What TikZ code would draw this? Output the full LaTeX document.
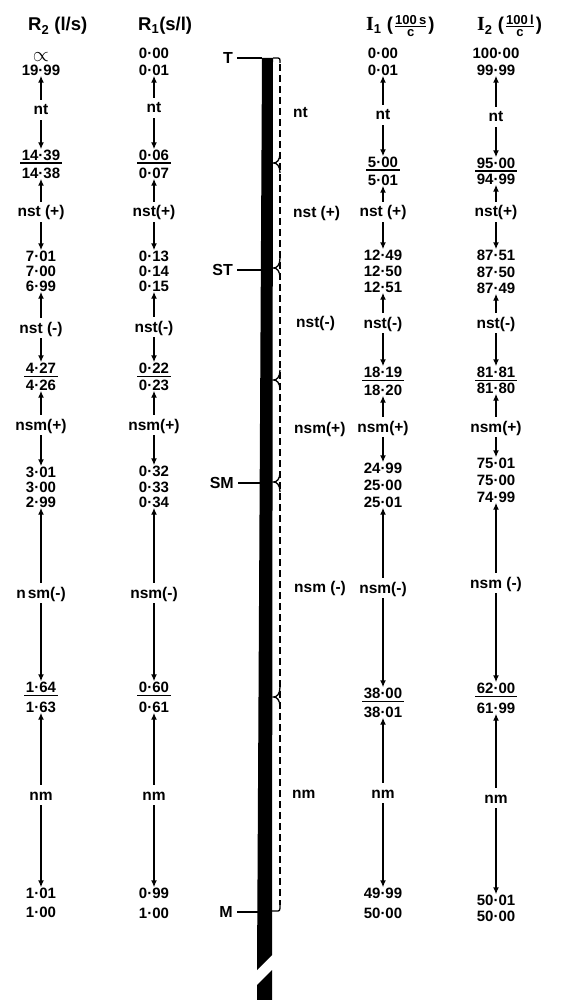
\documentclass[tikz,border=0pt]{standalone}
\usepackage{fontspec}
\setmainfont{Liberation Sans}
\newfontfamily\serifI{Liberation Serif}
\usetikzlibrary{arrows.meta}

\begin{document}
\begin{tikzpicture}[x=1pt,y=-1pt,
  num/.style={font=\bfseries\fontsize{15}{15}\selectfont, inner sep=0pt, text height=11pt, text depth=0pt},
  lab/.style={font=\bfseries\fontsize{15.5}{15.5}\selectfont, inner sep=1pt, text height=12pt, text depth=2pt},
  head/.style={font=\bfseries\fontsize{18.5}{18.5}\selectfont, inner sep=0pt, anchor=base west},
  tk/.style={font=\bfseries\fontsize{16}{16}\selectfont, inner sep=1pt, anchor=east},
  arr/.style={line width=1.6pt, -{Latex[length=7pt,width=6pt]}, shorten <=2pt},
  ul/.style={line width=1.4pt},
  tick/.style={line width=1.3pt, shorten <=3pt},
  rangeline/.style={line width=1.3pt, dash pattern=on 7pt off 4pt},
  brk/.style={line width=1.3pt}]
\useasboundingbox (0,0) rectangle (563,1000);

% column headings
\node[head] (h1) at (28,31) {R\textsubscript{2} (l/s)};
\node[head] (h2) at (138,31) {R\textsubscript{1}(s/l)};
\node[head] (h3) at (366,31) {{\serifI\fontsize{20}{20}\selectfont I}\textsubscript{1} (\kern1pt$\frac{\hbox{\fontsize{13}{13}\selectfont 100\,s}}{\hbox{\fontsize{13}{13}\selectfont c}}$\kern1pt)};
\node[head] (h4) at (477,31) {{\serifI\fontsize{20}{20}\selectfont I}\textsubscript{2} (\kern1pt$\frac{\hbox{\fontsize{13}{13}\selectfont 100\,l}}{\hbox{\fontsize{13}{13}\selectfont c}}$\kern1pt)};

% R2 column
\node[num] (r2a1) at (41,56) {\fontsize{22}{22}\selectfont$\propto$};
\node[num] (r2a2) at (41,70) {19·99};
\node[lab] (r2l1) at (41,110) {nt};
\node[num] (r2b1) at (41,155) {14·39};
\node[num] (r2b2) at (41,173) {14·38};
\node[lab] (r2l2) at (41,212) {nst (+)};
\node[num] (r2c1) at (41,256) {7·01};
\node[num] (r2c2) at (41,271) {7·00};
\node[num] (r2c3) at (41,286) {6·99};
\node[lab] (r2l3) at (41,328) {nst (-)};
\node[num] (r2d1) at (41,368) {4·27};
\node[num] (r2d2) at (41,385) {4·26};
\node[lab] (r2l4) at (41,425) {nsm(+)};
\node[num] (r2e1) at (41,472) {3·01};
\node[num] (r2e2) at (41,487) {3·00};
\node[num] (r2e3) at (41,502) {2·99};
\node[lab] (r2l5) at (41,593) {n\kern2pt sm(-)};
\node[num] (r2f1) at (41,687) {1·64};
\node[num] (r2f2) at (41,707) {1·63};
\node[lab] (r2l6) at (41,795) {nm};
\node[num] (r2g1) at (41,893) {1·01};
\node[num] (r2g2) at (41,912) {1·00};

% R1 column
\node[num] (r1a1) at (154,53) {0·00};
\node[num] (r1a2) at (154,70) {0·01};
\node[lab] (r1l1) at (154,108) {nt};
\node[num] (r1b1) at (154,155) {0·06};
\node[num] (r1b2) at (154,173) {0·07};
\node[lab] (r1l2) at (154,212) {nst(+)};
\node[num] (r1c1) at (154,256) {0·13};
\node[num] (r1c2) at (154,271) {0·14};
\node[num] (r1c3) at (154,286) {0·15};
\node[lab] (r1l3) at (154,327) {nst(-)};
\node[num] (r1d1) at (154,368) {0·22};
\node[num] (r1d2) at (154,385) {0·23};
\node[lab] (r1l4) at (154,425) {nsm(+)};
\node[num] (r1e1) at (154,471) {0·32};
\node[num] (r1e2) at (154,487) {0·33};
\node[num] (r1e3) at (154,502) {0·34};
\node[lab] (r1l5) at (154,593) {nsm(-)};
\node[num] (r1f1) at (154,687) {0·60};
\node[num] (r1f2) at (154,707) {0·61};
\node[lab] (r1l6) at (154,795) {nm};
\node[num] (r1g1) at (154,893) {0·99};
\node[num] (r1g2) at (154,913) {1·00};

% I1 column
\node[num] (i1a1) at (383,53) {0·00};
\node[num] (i1a2) at (383,70) {0·01};
\node[lab] (i1l1) at (383,115) {nt};
\node[num] (i1b1) at (383,162) {5·00};
\node[num] (i1b2) at (383,180) {5·01};
\node[lab] (i1l2) at (383,212) {nst (+)};
\node[num] (i1c1) at (383,255) {12·49};
\node[num] (i1c2) at (383,271) {12·50};
\node[num] (i1c3) at (383,287) {12·51};
\node[lab] (i1l3) at (383,323) {nst(-)};
\node[num] (i1d1) at (383,372) {18·19};
\node[num] (i1d2) at (383,390) {18·20};
\node[lab] (i1l4) at (383,427) {nsm(+)};
\node[num] (i1e1) at (383,468) {24·99};
\node[num] (i1e2) at (383,485) {25·00};
\node[num] (i1e3) at (383,502) {25·01};
\node[lab] (i1l5) at (383,588) {nsm(-)};
\node[num] (i1f1) at (383,693) {38·00};
\node[num] (i1f2) at (383,712) {38·01};
\node[lab] (i1l6) at (383,793) {nm};
\node[num] (i1g1) at (383,893) {49·99};
\node[num] (i1g2) at (383,913) {50·00};

% I2 column
\node[num] (i2a1) at (496,53) {100·00};
\node[num] (i2a2) at (496,70) {99·99};
\node[lab] (i2l1) at (496,117) {nt};
\node[num] (i2b1) at (496,163) {95·00};
\node[num] (i2b2) at (496,179) {94·99};
\node[lab] (i2l2) at (496,212) {nst(+)};
\node[num] (i2c1) at (496,255) {87·51};
\node[num] (i2c2) at (496,272) {87·50};
\node[num] (i2c3) at (496,288) {87·49};
\node[lab] (i2l3) at (496,323) {nst(-)};
\node[num] (i2d1) at (496,372) {81·81};
\node[num] (i2d2) at (496,388) {81·80};
\node[lab] (i2l4) at (496,427) {nsm(+)};
\node[num] (i2e1) at (496,463) {75·01};
\node[num] (i2e2) at (496,480) {75·00};
\node[num] (i2e3) at (496,497) {74·99};
\node[lab] (i2l5) at (496,583) {nsm (-)};
\node[num] (i2f1) at (496,688) {62·00};
\node[num] (i2f2) at (496,708) {61·99};
\node[lab] (i2l6) at (496,798) {nm};
\node[num] (i2g1) at (496,900) {50·01};
\node[num] (i2g2) at (496,916) {50·00};

% range arrows and underlined boundary values
\foreach \c in {r2,r1,i1,i2}{
  \draw[arr] (\c l1) -- (\c a2);  \draw[arr] (\c l1) -- (\c b1);
  \draw[arr] (\c l2) -- (\c b2);  \draw[arr] (\c l2) -- (\c c1);
  \draw[arr] (\c l3) -- (\c c3);  \draw[arr] (\c l3) -- (\c d1);
  \draw[arr] (\c l4) -- (\c d2);  \draw[arr] (\c l4) -- (\c e1);
  \draw[arr] (\c l5) -- (\c e3);  \draw[arr] (\c l5) -- (\c f1);
  \draw[arr] (\c l6) -- (\c f2);  \draw[arr] (\c l6) -- (\c g1);
  \foreach \k in {b1,d1,f1}
    \draw[ul] ([xshift=-1.5pt,yshift=-2.5pt]\c\k.south west) -- ([xshift=1.5pt,yshift=-2.5pt]\c\k.south east);
}

% chromosome bar with a break near the bottom
\fill (262,58) -- (273,58) -- (272,955) -- (257,970) -- cycle;
\fill (272,970) -- (272,1000) -- (257,1000) -- (257,985) -- cycle;

% centromere positions
\node[tk] (tT) at (234,58) {T};
\node[tk] (tST) at (234,270) {ST};
\node[tk] (tSM) at (235,483) {SM};
\node[tk] (tM) at (234,912) {M};
\coordinate (bT) at (262,58);
\coordinate (bST) at (261,270);
\coordinate (bSM) at (259.7,483);
\coordinate (bM) at (257.5,912);
\draw[tick] (tT.east) -- (bT);
\draw[tick] (tST.east) -- (bST);
\draw[tick] (tSM.east) -- (bSM);
\draw[tick] (tM.east) -- (bM);

% dashed range line with its limits
\draw[rangeline] (280,64) -- (280,905);
\draw[brk] (273,58) -- (276,58) .. controls (280,58) .. (280,63);
\draw[brk] (280,905) .. controls (280,911) .. (276,911) -- (272,911);
\foreach \y in {163,268,380,482,697}
  \draw[brk] (280,\y-10) .. controls (280,\y-3) and (277,\y) .. (273.5,\y)
             .. controls (277,\y) and (280,\y+3) .. (280,\y+10);

% range names beside the bar
\node[lab, anchor=west] (m1) at (292,113) {nt};
\node[lab, anchor=west] (m2) at (292,213) {nst (+)};
\node[lab, anchor=west] (m3) at (295,322) {nst(-)};
\node[lab, anchor=west] (m4) at (293,428) {nsm(+)};
\node[lab, anchor=west] (m5) at (293,587) {nsm (-)};
\node[lab, anchor=west] (m6) at (291,793) {nm};
\end{tikzpicture}
\end{document}
